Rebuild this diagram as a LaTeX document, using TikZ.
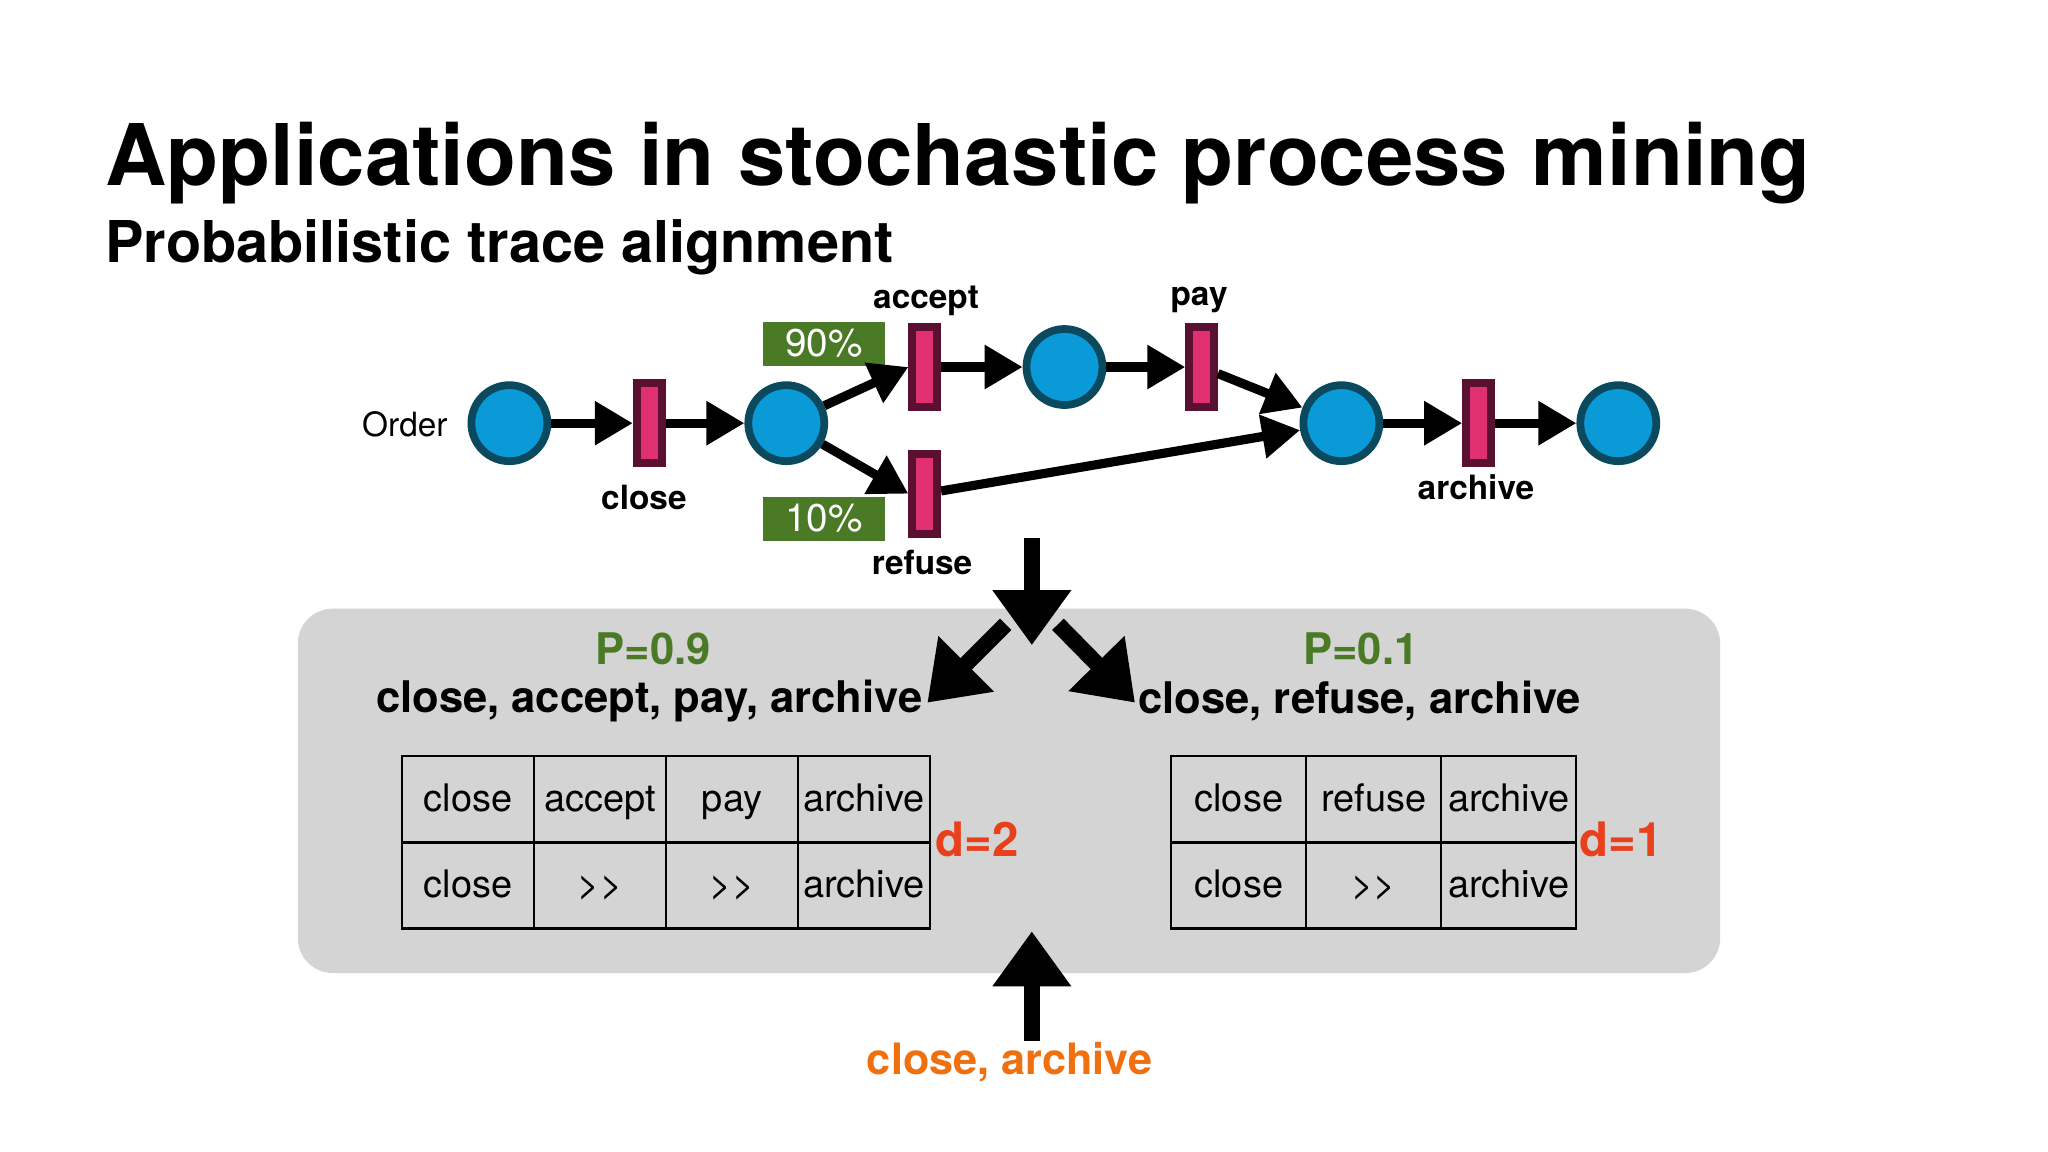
\documentclass[tikz,border=0pt]{standalone}
\usepackage{fontspec}
\setmainfont{TeX Gyre Heros}
\usepackage{xcolor}
\usetikzlibrary{arrows.meta, positioning}

\begin{document}
\begin{tikzpicture}[x=0.01306cm, y=-0.01306cm,
    place/.style={circle, draw=placeborder, fill=placefill, line width=2.2pt, inner sep=0pt, minimum size=0.76cm},
    trans/.style={rectangle, draw=transborder, fill=transfill, line width=2.2pt, minimum width=0.25cm, minimum height=0.8cm, inner sep=0pt},
    netlabel/.style={font=\fontsize{9.5}{11}\selectfont\bfseries},
    flow/.style={line width=2.6pt, -{Triangle[length=0.38cm, width=0.42cm]}},
    big/.style={line width=4.6pt, -{Triangle[length=0.55cm, width=0.75cm]}},
    prob/.style={fill=probgreen, text=white, minimum width=1.22cm, minimum height=0.44cm, inner sep=0pt, font=\fontsize{11}{12}\selectfont},
    cell/.style={draw, line width=0.6pt, minimum width=1.32cm, minimum height=0.86cm, inner sep=0pt, text height=1.6ex, text depth=0.3ex, font=\fontsize{10.8}{12}\selectfont},
    trace/.style={font=\fontsize{12.4}{14}\selectfont\bfseries}]
    % Colors
    \definecolor{placefill}{HTML}{0A9AD8}
    \definecolor{placeborder}{HTML}{0B4A5E}
    \definecolor{transfill}{HTML}{E03070}
    \definecolor{transborder}{HTML}{5A1030}
    \definecolor{probgreen}{HTML}{4A7A25}
    \definecolor{boxgray}{HTML}{D4D4D4}
    \definecolor{distred}{HTML}{E8401C}
    \definecolor{traceorange}{HTML}{F07010}

    \useasboundingbox[fill=white] (0,0) rectangle (1568,882);

    % Titles
    \node[anchor=base west, inner sep=0pt, font=\fontsize{24.2}{28}\selectfont\bfseries] (title) at (80,142) {Applications in stochastic process mining};
    \node[anchor=base west, inner sep=0pt, font=\fontsize{16.4}{19}\selectfont\bfseries] (subtitle) at (80,201) {Probabilistic trace alignment};

    % Gray panel
    \fill[boxgray, rounded corners=0.35cm] (228,466) rectangle (1317,745);

    % Petri net
    \node[place] (p1) at (390,324) {};
    \node[place] (p2) at (602,324) {};
    \node[place] (p3) at (815,281) {};
    \node[place] (p4) at (1027,324) {};
    \node[place] (p5) at (1239,324) {};
    \node[trans] (tclose) at (497,324) {};
    \node[trans] (taccept) at (708,281) {};
    \node[trans] (trefuse) at (708,378) {};
    \node[trans] (tpay) at (920,281) {};
    \node[trans] (tarchive) at (1132,324) {};

    \node[font=\fontsize{9.5}{11}\selectfont] (order) at (310,325) {Order};
    \node[netlabel] (lclose) at (493,381) {close};
    \node[netlabel] (laccept) at (709,230) {accept};
    \node[netlabel] (lrefuse) at (706,431) {refuse};
    \node[netlabel] (lpay) at (918,230) {pay};
    \node[netlabel] (larchive) at (1130,373) {archive};
    \node[prob] (g90) at (631,263) {90\%};
    \node[prob] (g10) at (631,397) {10\%};

    \draw[flow] (p1) -- (tclose);
    \draw[flow] (tclose) -- (p2);
    \draw[flow] (p2) -- (taccept.west);
    \draw[flow] (p2) -- (trefuse.west);
    \draw[flow] (taccept) -- (p3);
    \draw[flow] (p3) -- (tpay);
    \draw[flow] (tpay) -- (p4);
    \draw[flow] (trefuse) -- (p4);
    \draw[flow] (p4) -- (tarchive);
    \draw[flow] (tarchive) -- (p5);

    % Big arrows
    \coordinate (downtop) at (790,412);
    \coordinate (downend) at (790,494);
    \coordinate (lstart) at (770,478);
    \coordinate (lend) at (710,538);
    \coordinate (rstart) at (810,478);
    \coordinate (rend) at (869,538);
    \coordinate (upstart) at (790,797);
    \coordinate (upend) at (790,713);
    \draw[big] (downtop) -- (downend);
    \draw[big] (lstart) -- (lend);
    \draw[big] (rstart) -- (rend);
    \draw[big] (upstart) -- (upend);

    % Traces
    \node[trace, text=probgreen] (pleft) at (500,497) {P=0.9};
    \node[trace] (tleft) at (497,537) {close, accept, pay, archive};
    \node[trace, text=probgreen] (pright) at (1042,497) {P=0.1};
    \node[trace] (tright) at (1041,537) {close, refuse, archive};

    % Alignment tables
    \foreach \lbl [count=\i] in {close,accept,pay,archive} {
        \node[cell] (a1\i) at (358.5+101*\i-101,612) {\lbl};
    }
    \foreach \lbl [count=\i] in {close,>{}>,>{}>,archive} {
        \node[cell] (a2\i) at (358.5+101*\i-101,678) {\lbl};
    }
    \foreach \lbl [count=\i] in {close,refuse,archive} {
        \node[cell, minimum width=1.35cm] (b1\i) at (948.5+103.3*\i-103.3,612) {\lbl};
    }
    \foreach \lbl [count=\i] in {close,>{}>,archive} {
        \node[cell, minimum width=1.35cm] (b2\i) at (948.5+103.3*\i-103.3,678) {\lbl};
    }
    \node[text=distred, font=\fontsize{13.5}{16}\selectfont\bfseries] (dleft) at (748,643) {d=2};
    \node[text=distred, font=\fontsize{13.5}{16}\selectfont\bfseries] (dright) at (1241,643) {d=1};

    \node[text=traceorange, font=\fontsize{12.3}{14}\selectfont\bfseries] (observed) at (773,813) {close, archive};
\end{tikzpicture}
\end{document}
